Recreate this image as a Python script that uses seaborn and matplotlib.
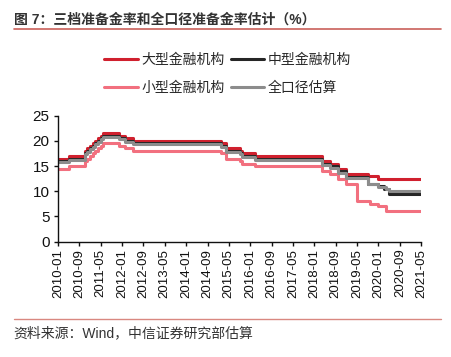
import pandas as pd
import seaborn as sns
import matplotlib.pyplot as plt
from matplotlib.lines import Line2D

sns.set_style("white")
plt.rcParams['font.family'] = ['Liberation Sans', 'Noto Sans CJK SC']
plt.rcParams['axes.unicode_minus'] = False

# Reserve requirement ratios (%) - month of each change and the new level
end_month = "2021-05"

large_months = ["2010-01", "2010-05", "2010-11", "2010-12", "2011-01", "2011-02", "2011-03",
                "2011-04", "2011-05", "2011-06", "2011-12", "2012-02", "2012-05", "2015-02",
                "2015-04", "2015-09", "2015-10", "2016-03", "2018-04", "2018-07", "2018-10",
                "2019-01", "2019-09", "2020-01"]
large_values = [16.5, 17.0, 18.0, 18.5, 19.0, 19.5, 20.0,
                20.5, 21.0, 21.5, 21.0, 20.5, 20.0, 19.5,
                18.5, 18.0, 17.5, 17.0, 16.0, 15.5, 14.5,
                13.5, 13.0, 12.5]

medium_months = ["2010-01", "2010-05", "2010-11", "2010-12", "2011-01", "2011-02", "2011-03",
                 "2011-04", "2011-05", "2011-06", "2011-12", "2012-02", "2012-05", "2015-02",
                 "2015-04", "2015-09", "2015-10", "2016-03", "2018-04", "2018-07", "2018-10",
                 "2019-01", "2019-09", "2020-01", "2020-03", "2020-05"]
medium_values = [16.0, 16.5, 17.5, 18.0, 18.5, 19.0, 19.5,
                 20.0, 20.5, 21.0, 20.5, 20.0, 19.5, 19.0,
                 18.0, 17.5, 17.0, 16.5, 15.5, 15.0, 14.0,
                 12.8, 11.5, 11.0, 10.5, 9.5]

small_months = ["2010-01", "2010-05", "2010-11", "2010-12", "2011-01", "2011-02", "2011-03",
                "2011-04", "2011-05", "2011-06", "2011-12", "2012-02", "2012-05", "2015-02",
                "2015-04", "2015-09", "2015-10", "2016-03", "2018-04", "2018-07", "2018-10",
                "2019-01", "2019-05", "2019-10", "2020-01", "2020-04"]
small_values = [14.5, 15.0, 16.0, 16.5, 17.0, 17.5, 18.0,
                18.5, 19.0, 19.5, 19.0, 18.5, 18.0, 17.5,
                16.5, 16.0, 15.5, 15.0, 14.0, 13.5, 12.5,
                11.5, 8.0, 7.5, 7.0, 6.0]

total_months = ["2010-01", "2010-05", "2010-11", "2010-12", "2011-01", "2011-02", "2011-03",
                "2011-04", "2011-05", "2011-06", "2011-12", "2012-02", "2012-05", "2015-02",
                "2015-04", "2015-09", "2015-10", "2016-03", "2018-04", "2018-07", "2018-10",
                "2019-01", "2019-09", "2020-01", "2020-04", "2020-05"]
total_values = [15.8, 16.3, 17.3, 17.8, 18.3, 18.8, 19.3,
                19.8, 20.3, 20.8, 20.3, 19.8, 19.3, 18.8,
                17.8, 17.3, 16.8, 16.3, 15.3, 14.7, 13.7,
                12.6, 11.4, 10.9, 10.5, 10.0]

names = ["大型金融机构", "中型金融机构", "小型金融机构", "全口径估算"]
colors = ["#D0202E", "#262626", "#F2707F", "#8C8C8C"]

tick_labels = ["2010-01", "2010-09", "2011-05", "2012-01", "2012-09", "2013-05",
               "2014-01", "2014-09", "2015-05", "2016-01", "2016-09", "2017-05",
               "2018-01", "2018-09", "2019-05", "2020-01", "2020-09", "2021-05"]

# long-form table, each series closed with its last level at the end month
frames = []
for name, months, values in zip(names,
                                [large_months, medium_months, small_months, total_months],
                                [large_values, medium_values, small_values, total_values]):
    frames.append(pd.DataFrame({"date": pd.to_datetime(months + [end_month]),
                                "value": values + [values[-1]],
                                "series": name}))
df = pd.concat(frames, ignore_index=True)

fig = plt.figure(figsize=(4.51, 3.57), dpi=100)
ax = fig.add_axes([0.1286, 0.323, 0.805, 0.353])

sns.lineplot(data=df, x="date", y="value", hue="series", hue_order=names,
             palette=colors, drawstyle="steps-post", linewidth=2.2, ax=ax, legend=False)

ax.set_xlim(pd.Timestamp("2010-01"), pd.Timestamp(end_month))
ax.set_ylim(0, 25)
ax.set_yticks([0, 5, 10, 15, 20, 25])
ax.set_xticks(pd.to_datetime(tick_labels))
ax.set_xticklabels(tick_labels, rotation=90, fontsize=9.5)
ax.tick_params(axis="y", labelsize=11, length=3, width=1, direction="out", pad=3)
ax.tick_params(axis="x", length=3, width=1, direction="out", pad=2)
ax.tick_params(axis="both", colors="#111111", left=True, bottom=True)
ax.set_xlabel("")
ax.set_ylabel("")
sns.despine(ax=ax)
for s in ["left", "bottom"]:
    ax.spines[s].set_color("#111111")
    ax.spines[s].set_linewidth(1)

# legend, row by row
handles = [Line2D([], [], color=c, lw=2.2) for c in colors]
order = [0, 2, 1, 3]
fig.legend([handles[i] for i in order], [names[i] for i in order],
           loc="center", bbox_to_anchor=(0.505, 0.793), ncol=2, frameon=False,
           fontsize=10, handlelength=2.4, columnspacing=0.4, handletextpad=0.3,
           labelspacing=1.0)

fig.text(0.03, 0.945, "图 7：三档准备金率和全口径准备金率估计（%）", fontsize=10,
         fontweight="bold", color="#333333", va="center")
fig.add_artist(Line2D([0.03, 0.978], [0.918, 0.918], color="#C9605A", lw=1.2))
fig.add_artist(Line2D([0.03, 0.978], [0.106, 0.106], color="#D98880", lw=1))
fig.text(0.03, 0.067, "资料来源：Wind，中信证券研究部估算", fontsize=10,
         color="#333333", va="center")

fig.savefig("out.png", dpi=100)
